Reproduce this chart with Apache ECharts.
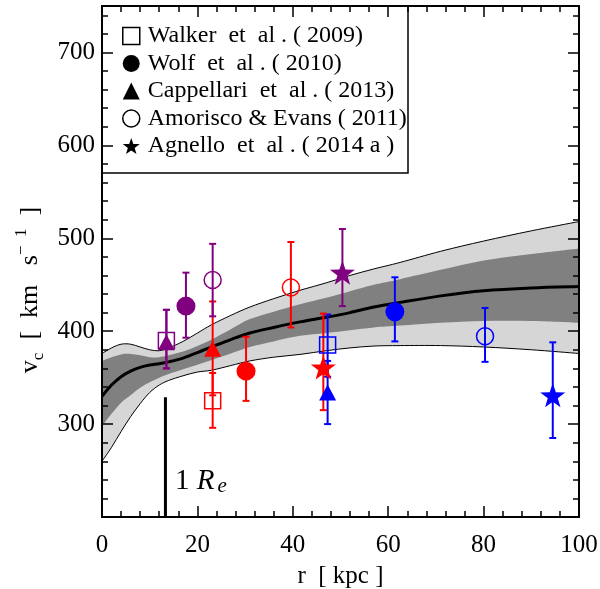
<!DOCTYPE html>
<html><head><meta charset="utf-8">
<script src="https://cdn.jsdelivr.net/npm/echarts@6/dist/echarts.min.js"></script>
<style>html,body{margin:0;padding:0;background:#fff}#c{width:600px;height:589px}</style>
</head><body><div id="c"></div>
<script>
// ---------- data ----------
const studyNames = ['Walker  et  al . ( 2009)', 'Wolf  et  al . ( 2010)', 'Cappellari  et  al . ( 2013)', 'Amorisco & Evans ( 2011)', 'Agnello  et  al . ( 2014 a )'];
// point order in each study: purple, red, blue galaxy
const walkerR = [13.5, 23.2, 47.3];
const walkerV = [390, 325, 385];
const walkerLo = [360, 296, 351];
const walkerHi = [423, 355, 418];

const wolfR = [17.6, 30.2, 61.4];
const wolfV = [427, 357, 421];
const wolfLo = [393, 325, 389];
const wolfHi = [463, 394, 458];

const cappR = [13.5, 23.2, 47.3];
const cappV = [388, 381, 334];
const cappLo = [360, 331, 300];
const cappHi = [423, 432, 368];

const amorR = [23.2, 39.6, 80.3];
const amorV = [455, 447, 394.5];
const amorLo = [416, 404, 367];
const amorHi = [494, 496, 425];

const agnR = [50.4, 46.4, 94.5];
const agnV = [463, 361, 331];
const agnLo = [427, 315, 285];
const agnHi = [510, 419, 388];

const bandR = [0, 2, 4, 6, 8, 10, 12, 14, 17, 20, 23, 27, 31, 36, 41.5, 47, 52, 57, 62.5, 71, 80, 90, 100];
const outerTop = [376, 382, 386, 386, 383, 380, 379, 382, 389, 398, 407, 417, 426, 435, 444, 452, 460, 467, 474, 486, 497, 508, 518];
const innerTop = [368, 372, 375, 375.5, 374, 372, 372, 374, 378, 384, 391, 402, 413, 421, 429, 436, 443, 450, 456, 466, 476, 483, 489];
const median = [330, 342, 351, 357, 361, 363.5, 365, 367, 371, 377, 383, 391, 398, 404, 410, 415, 420, 426, 431, 438, 443.5, 446.5, 448];
const innerBottom = [298, 311, 323, 331, 339, 345, 350, 354, 359, 364, 369, 376, 383, 389, 395, 398, 401, 404, 406, 409, 411, 411, 409];
const outerBottom = [260, 275, 292, 308, 322, 334, 342, 347, 352, 356, 358, 363, 368, 372, 375, 379, 382, 384, 384.5, 384.5, 383, 380, 376];

const reRadius = 13.3;     // 1 R_e marker
const reTop = 329;

const xTicks = [0, 20, 40, 60, 80, 100];
const yTicks = [300, 400, 500, 600, 700];

// ---------- styles ----------
const FONT = '"Liberation Serif", "Times New Roman", Times, serif';
const galaxyColors = ['#800080', '#ff0000', '#0000ff'];
const STAR = 'path://M0,-10 L2.35,-3.24 L9.51,-3.09 L3.8,1.24 L5.88,8.09 L0,4 L-5.88,8.09 L-3.8,1.24 L-9.51,-3.09 L-2.35,-3.24 Z';

const studies = [
  {name: studyNames[0], R: walkerR, V: walkerV, lo: walkerLo, hi: walkerHi, symbol: 'rect', size: 16, open: true},
  {name: studyNames[1], R: wolfR, V: wolfV, lo: wolfLo, hi: wolfHi, symbol: 'circle', size: 19, open: false},
  {name: studyNames[2], R: cappR, V: cappV, lo: cappLo, hi: cappHi, symbol: 'triangle', size: [17, 16], open: false},
  {name: studyNames[3], R: amorR, V: amorV, lo: amorLo, hi: amorHi, symbol: 'circle', size: 17, open: true},
  {name: studyNames[4], R: agnR, V: agnV, lo: agnLo, hi: agnHi, symbol: STAR, size: [25, 24], open: false}
];

const errData = [];
studies.forEach(s => s.R.forEach((r, i) => errData.push([r, s.lo[i], s.hi[i], i])));

// smooth path through pixel points (Catmull-Rom -> cubic bezier)
function curveCmds(pts, first) {
  let d = first ? ('M' + pts[0][0] + ',' + pts[0][1]) : ('L' + pts[0][0] + ',' + pts[0][1]);
  for (let i = 0; i < pts.length - 1; i++) {
    const p0 = pts[Math.max(i - 1, 0)], p1 = pts[i], p2 = pts[i + 1], p3 = pts[Math.min(i + 2, pts.length - 1)];
    const c1x = p1[0] + (p2[0] - p0[0]) / 6, c1y = p1[1] + (p2[1] - p0[1]) / 6;
    const c2x = p2[0] - (p3[0] - p1[0]) / 6, c2y = p2[1] - (p3[1] - p1[1]) / 6;
    d += 'C' + c1x + ',' + c1y + ' ' + c2x + ',' + c2y + ' ' + p2[0] + ',' + p2[1];
  }
  return d;
}

const series = [];
series.push({
  type: 'custom', name: 'band', data: [[bandR[0], median[0]]], z: 1, silent: true, clip: true,
  renderItem: function (params, api) {
    const pts = arr => bandR.map((r, i) => api.coord([r, arr[i]]));
    const oT = pts(outerTop), iT = pts(innerTop), md = pts(median), iB = pts(innerBottom), oB = pts(outerBottom);
    const area = (up, lo) => curveCmds(up, true) + curveCmds(lo.slice().reverse(), false) + 'Z';
    return {type: 'group', children: [
      {type: 'path', shape: {pathData: area(oT, oB)}, style: {fill: '#d6d6d6', stroke: null}},
      {type: 'path', shape: {pathData: area(iT, iB)}, style: {fill: '#808080', stroke: null}},
      {type: 'path', shape: {pathData: curveCmds(oT, true)}, style: {fill: null, stroke: '#000', lineWidth: 1}},
      {type: 'path', shape: {pathData: curveCmds(oB, true)}, style: {fill: null, stroke: '#000', lineWidth: 1}},
      {type: 'path', shape: {pathData: curveCmds(md, true)}, style: {fill: null, stroke: '#000', lineWidth: 3}}
    ]};
  }
});
// 1 R_e marker
series.push({type: 'line', name: 're', data: [[reRadius, 200], [reRadius, reTop]], symbol: 'none',
  lineStyle: {color: '#000', width: 3}, z: 2, silent: true});
// error bars
series.push({type: 'custom', name: 'err', data: errData, encode: {x: 0, y: [1, 2]}, z: 3, silent: true,
  renderItem: function (params, api) {
    const a = api.coord([api.value(0), api.value(1)]);
    const b = api.coord([api.value(0), api.value(2)]);
    const c = galaxyColors[api.value(3)];
    const st = {stroke: c, lineWidth: 2};
    const w = 3.5;
    return {type: 'group', children: [
      {type: 'line', shape: {x1: a[0], y1: a[1], x2: b[0], y2: b[1]}, style: st},
      {type: 'line', shape: {x1: a[0] - w, y1: a[1], x2: a[0] + w, y2: a[1]}, style: st},
      {type: 'line', shape: {x1: b[0] - w, y1: b[1], x2: b[0] + w, y2: b[1]}, style: st}
    ]};
  }});
// markers
studies.forEach(s => {
  series.push({
    type: 'scatter', name: s.name, symbol: s.symbol, symbolSize: s.size, z: 4, silent: true,
    itemStyle: s.open ? {color: 'rgba(0,0,0,0)', borderColor: '#000', borderWidth: 1.5, opacity: 1} : {color: '#000', opacity: 1},
    data: s.R.map((r, i) => ({
      value: [r, s.V[i]],
      itemStyle: s.open ? {color: 'rgba(0,0,0,0)', borderColor: galaxyColors[i], borderWidth: 1.5, opacity: 1} : {color: galaxyColors[i], opacity: 1}
    }))
  });
});

const legendData = studies.map(s => ({
  name: s.name,
  icon: s.symbol,
  itemStyle: s.open ? {color: 'rgba(0,0,0,0)', borderColor: '#000', borderWidth: 1.5} : {color: '#000', borderWidth: 0}
}));

const axisLine = {show: true, lineStyle: {color: '#000', width: 2}};
const majorTick = {show: true, inside: true, length: 11, lineStyle: {color: '#000', width: 1.5}};
const minorTickStyle = {show: true, inside: true, length: 6, lineStyle: {color: '#000', width: 1.5}};

const chart = echarts.init(document.getElementById('c'), null, {renderer: 'canvas'});
chart.setOption({
  animation: false,
  backgroundColor: '#fff',
  grid: {left: 102, right: 21, top: 6, bottom: 72, containLabel: false, outerBoundsMode: 'none'},
  legend: {
    orient: 'vertical', left: 117, top: 19, z: 6, selectedMode: false,
    itemWidth: 17, itemHeight: 17, itemGap: 3.5,
    textStyle: {fontFamily: FONT, fontSize: 24, color: '#000', padding: [0, 0, 0, 3]},
    data: legendData
  },
  xAxis: [
    {type: 'value', min: xTicks[0], max: xTicks[xTicks.length - 1], interval: xTicks[1] - xTicks[0], position: 'bottom', z: 10,
      axisLine, axisTick: majorTick, minorTick: Object.assign({splitNumber: 5}, minorTickStyle),
      splitLine: {show: false}, minorSplitLine: {show: false},
      axisLabel: {fontFamily: FONT, fontSize: 25, color: '#000', margin: 16},
      name: 'r  [ kpc ]', nameLocation: 'middle', nameGap: 47,
      nameTextStyle: {fontFamily: FONT, fontSize: 25, color: '#000'}},
    {type: 'value', min: xTicks[0], max: xTicks[xTicks.length - 1], interval: xTicks[1] - xTicks[0], position: 'top', z: 10,
      axisLine, axisTick: majorTick, minorTick: Object.assign({splitNumber: 5}, minorTickStyle),
      splitLine: {show: false}, minorSplitLine: {show: false}, axisLabel: {show: false}}
  ],
  yAxis: [
    {type: 'value', min: 200, max: 750, interval: 100, position: 'left', z: 10,
      axisLine, axisTick: majorTick, splitLine: {show: false},
      axisLabel: {fontFamily: FONT, fontSize: 25, color: '#000', margin: 7,
        formatter: v => (yTicks.indexOf(v) >= 0 ? String(v) : '')}},
    {type: 'value', min: 200, max: 750, interval: 20, position: 'left', z: 10,
      axisLine: {show: false}, axisTick: minorTickStyle, splitLine: {show: false}, axisLabel: {show: false}},
    {type: 'value', min: 200, max: 750, interval: 100, position: 'right', z: 10,
      axisLine, axisTick: majorTick, splitLine: {show: false}, axisLabel: {show: false}},
    {type: 'value', min: 200, max: 750, interval: 20, position: 'right', z: 10,
      axisLine: {show: false}, axisTick: minorTickStyle, splitLine: {show: false}, axisLabel: {show: false}}
  ],
  graphic: [
    {type: 'rect', z: 5, shape: {x: 102, y: 6, width: 306, height: 167},
      style: {fill: '#fff', stroke: '#000', lineWidth: 1.5}},
    {type: 'text', z: 5, x: 30, y: 290, rotation: Math.PI / 2,
      style: {text: 'v{sub|c}  [  km   s{sup|−  1}  ]', fontFamily: FONT, fontSize: 26, lineHeight: 34, fill: '#000',
        align: 'center', verticalAlign: 'middle',
        rich: {
          sub: {fontFamily: FONT, fontSize: 17, lineHeight: 17, verticalAlign: 'bottom', fill: '#000'},
          sup: {fontFamily: FONT, fontSize: 17, lineHeight: 17, verticalAlign: 'top', fill: '#000'}
        }}},
    {type: 'text', z: 5, x: 175, y: 497,
      style: {text: '1 {i|R}{e|e}', fontFamily: FONT, fontSize: 29, lineHeight: 32, fill: '#000',
        align: 'left', verticalAlign: 'bottom',
        rich: {
          i: {fontFamily: FONT, fontSize: 29, fontStyle: 'italic', lineHeight: 32, fill: '#000'},
          e: {fontFamily: FONT, fontSize: 21, fontStyle: 'italic', lineHeight: 22, verticalAlign: 'bottom', fill: '#000', padding: [0, 0, 0, 3]}
        }}}
  ],
  series
});
</script>
</body></html>
